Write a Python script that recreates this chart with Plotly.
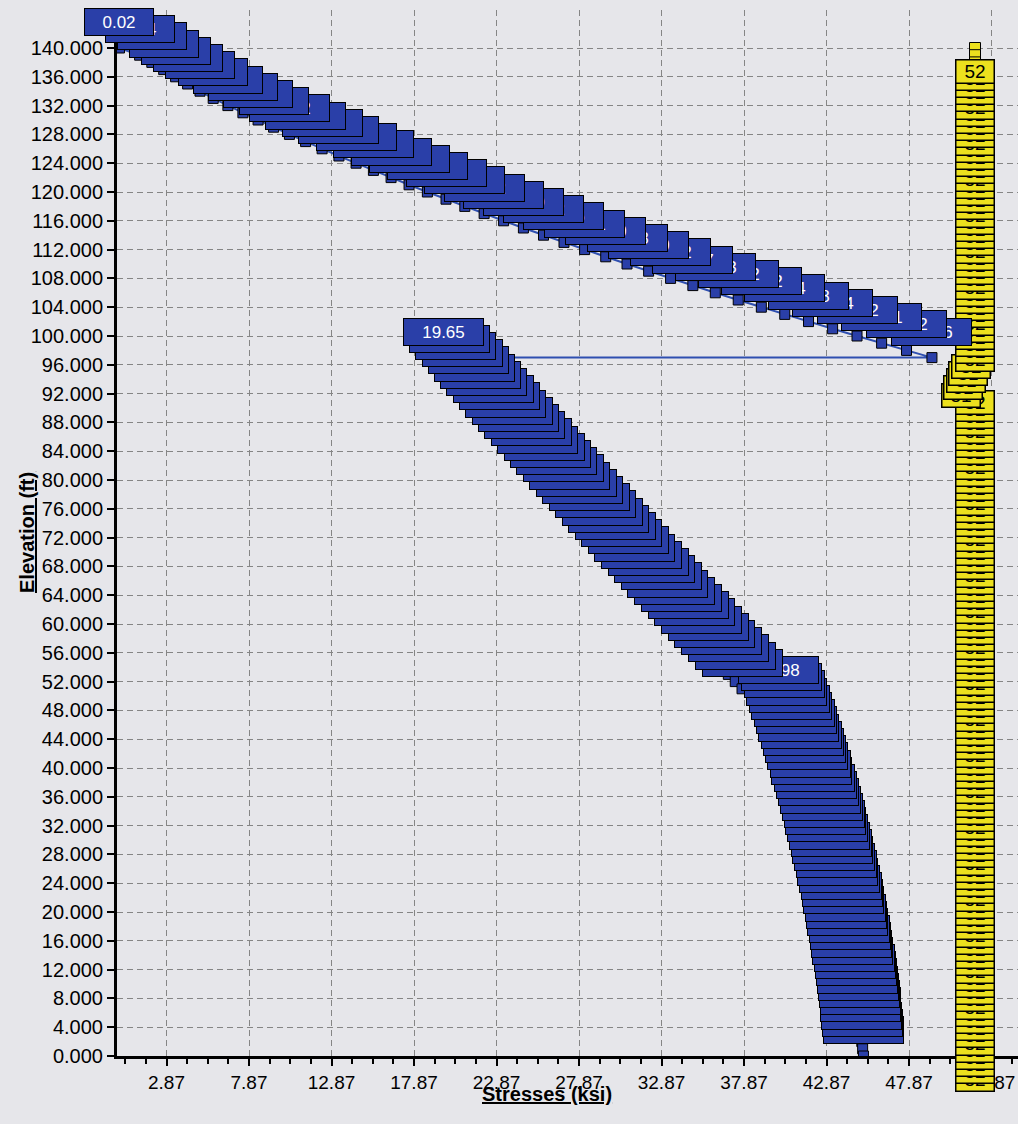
import plotly.graph_objects as go

# ---------------- data ----------------
# Upper (top) part of the stress line: elevation (ft) and stress (ksi)
upper_elev = [140, 139, 138, 137, 136, 135, 134, 133, 132, 131, 130, 129, 128, 127, 126,
              125, 124, 123, 122, 121, 120, 119, 118, 117, 116, 115, 114, 113, 112, 111,
              110, 109, 108, 107, 106, 105, 104, 103, 102, 101, 100, 99, 98, 97]
upper_stress = [0.02, 1.24, 1.98, 2.70, 3.42, 4.15, 4.90, 5.70, 6.59, 7.50, 8.42, 9.36,
                10.32, 11.30, 12.30, 13.32, 14.36, 15.41, 16.48, 17.57, 18.68, 19.81,
                20.95, 22.12, 23.30, 24.50, 25.72, 26.96, 28.21, 29.49, 30.78, 32.09,
                33.42, 34.77, 36.13, 37.52, 38.92, 40.34, 41.78, 43.24, 44.72, 46.21,
                47.72, 49.26]

# Lower part of the stress line
lower_elev = [97, 96, 95, 94, 93, 92, 91, 90, 89, 88, 87, 86, 85, 84, 83, 82, 81, 80,
              79, 78, 77, 76, 75, 74, 73, 72, 71, 70, 69, 68, 67, 66, 65, 64, 63, 62,
              61, 60, 59, 58, 57, 56, 55, 54, 53, 52, 51,
              50, 49, 48, 47, 46, 45, 44, 43, 42, 41, 40, 39, 38, 37, 36, 35, 34, 33,
              32, 31, 30, 29, 28, 27, 26, 25, 24, 23, 22, 21, 20, 19, 18, 17, 16, 15,
              14, 13, 12, 11, 10, 9, 8, 7, 6, 5, 4, 3, 2, 1, 0]
lower_stress = [19.65, 20.03, 20.40, 20.78, 21.16, 21.54, 21.91, 22.29, 22.68, 23.06,
                23.44, 23.82, 24.21, 24.59, 24.98, 25.37, 25.75, 26.14, 26.53, 26.92,
                27.31, 27.70, 28.09, 28.49, 28.88, 29.28, 29.67, 30.07, 30.46, 30.86,
                31.26, 31.66, 32.06, 32.46, 32.86, 33.26, 33.67, 34.07, 34.48, 34.88,
                35.29, 35.70, 36.11, 36.51, 36.92, 37.34, 37.75,
                39.98, 40.14, 40.30, 40.45, 40.60, 40.75, 40.90, 41.04, 41.19, 41.33,
                41.47, 41.60, 41.73, 41.87, 41.99, 42.12, 42.25, 42.37, 42.49, 42.60,
                42.72, 42.83, 42.94, 43.05, 43.16, 43.26, 43.36, 43.46, 43.56, 43.65,
                43.75, 43.83, 43.92, 44.01, 44.09, 44.17, 44.25, 44.33, 44.40, 44.47,
                44.54, 44.61, 44.67, 44.73, 44.79, 44.85, 44.91, 44.96, 45.01, 45.06,
                45.11]

# Allowable stress column (yellow)
allow_elev = list(range(140, -1, -1))
allow_stress = ([51.87] * 41 + [51.62, 51.45, 51.30, 51.15, 51.05] + [51.87] * 95)

# Axis ticks
x_tickvals = [2.87, 7.87, 12.87, 17.87, 22.87, 27.87, 32.87, 37.87, 42.87, 47.87, 52.87]
x_ticktext = ["2.87", "7.87", "12.87", "17.87", "22.87", "27.87", "32.87", "37.87",
              "42.87", "47.87", "52.87"]
y_tickvals = list(range(0, 141, 4))
y_ticktext = [f"{v:.3f}" for v in y_tickvals]

# ---------------- styles ----------------
BLUE = "#2a3fa8"
YELLOW = "#ece01e"
BG = "#e6e6ea"
FONT = "Liberation Sans"

stress_x = upper_stress + lower_stress
stress_y = upper_elev + lower_elev

fig = go.Figure()

fig.add_trace(go.Scatter(
    x=allow_stress, y=allow_elev, mode="lines+markers",
    line=dict(color="#c8b800", width=1),
    marker=dict(symbol="square", size=11, color=YELLOW, line=dict(color="black", width=1)),
    showlegend=False, hoverinfo="skip"))

fig.add_trace(go.Scatter(
    x=stress_x, y=stress_y, mode="lines+markers",
    line=dict(color="#2f4fb0", width=2),
    marker=dict(symbol="square", size=10, color=BLUE, line=dict(color="black", width=1)),
    showlegend=False, hoverinfo="skip"))

annotations = []
# yellow labels (below points); earlier labels on top -> add in reverse
for sx, ey in reversed(list(zip(allow_stress, allow_elev))):
    annotations.append(dict(
        x=sx, y=ey, xref="x", yref="y", text=f"{sx:.0f}", showarrow=False,
        yshift=-23, width=37, height=22, borderpad=0,
        bgcolor=YELLOW, bordercolor="black", borderwidth=1.5,
        font=dict(family=FONT, size=19, color="black")))
# blue labels (above points); earlier labels on top -> add in reverse
for sx, ey in reversed(list(zip(stress_x, stress_y))):
    txt = f"{sx:.2f}"
    annotations.append(dict(
        x=sx, y=ey, xref="x", yref="y", text=txt, showarrow=False,
        yshift=26, width=11 * len(txt) + 24, height=26, borderpad=0,
        bgcolor=BLUE, bordercolor="black", borderwidth=1,
        font=dict(family=FONT, size=17, color="white")))

# axis titles
annotations.append(dict(
    x=(547 - 117) / 901, y=(1056 - 1107) / 1046, xref="paper", yref="paper",
    text="<b><u>Stresses (ksi)</u></b>", showarrow=False,
    font=dict(family=FONT, size=20, color="black")))
annotations.append(dict(
    x=(14 - 117) / 901, y=(1056 - 533) / 1046, xref="paper", yref="paper",
    text="<b><u>Elevation (ft)</u></b>", showarrow=False, textangle=-90,
    font=dict(family=FONT, size=20, color="black")))

fig.update_layout(
    width=1018, height=1124,
    margin=dict(l=117, r=0, t=10, b=68),
    paper_bgcolor=BG, plot_bgcolor=BG,
    font=dict(family=FONT, size=19, color="black"),
    annotations=annotations,
)

fig.update_xaxes(
    range=[-0.13, -0.13 + 901 / 16.5],
    tickmode="array", tickvals=x_tickvals, ticktext=x_ticktext,
    ticks="outside", ticklen=7, tickwidth=1.5, tickcolor="black",
    tickfont=dict(family=FONT, size=19, color="black"),
    showline=True, linecolor="black", linewidth=3,
    showgrid=True, gridcolor="#858585", gridwidth=1, griddash="6px,4px",
    zeroline=False,
    minor=dict(tickmode="linear", tick0=0.37, dtick=1.25, ticks="outside",
               ticklen=5, tickcolor="black", showgrid=False),
)
fig.update_yaxes(
    range=[0, 1046 / 7.2],
    tickmode="array", tickvals=y_tickvals, ticktext=y_ticktext,
    ticks="outside", ticklen=7, tickwidth=1.5, tickcolor="black",
    tickfont=dict(family=FONT, size=20, color="black"),
    showline=True, linecolor="black", linewidth=3,
    showgrid=True, gridcolor="#858585", gridwidth=1, griddash="6px,4px",
    zeroline=False,
)

fig.write_html("out.html", config={"displayModeBar": False},
               post_script="document.body.style.margin='0px';")
